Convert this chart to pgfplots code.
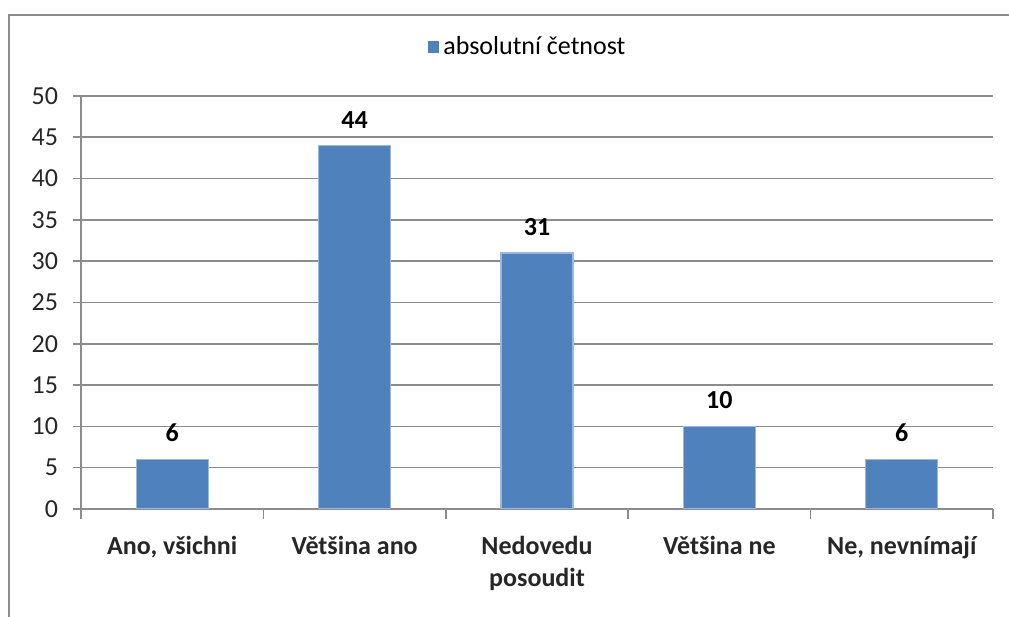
\documentclass[border=0pt]{standalone}
\usepackage{fontspec}
\setmainfont{Carlito}
\usepackage{pgfplots}
\pgfplotsset{compat=1.18}
\usetikzlibrary{calc}

\definecolor{barblue}{HTML}{4F81BD}
\definecolor{baredge}{HTML}{9BB7DD}
\definecolor{gridgray}{HTML}{8C8C8C}

\begin{document}
\begin{tikzpicture}[font=\fontsize{13}{16}\selectfont]
\begin{axis}[
    at={(0,0)}, anchor=south west,
    scale only axis,
    width=456pt, height=206.5pt,
    ybar, bar width=36pt,
    xmin=-0.5, xmax=4.5,
    ymin=0, ymax=50,
    ytick={0,5,...,50},
    xtick={0,1,2,3,4},
    xticklabels={{Ano, všichni},{Většina ano},{Nedovedu\\posoudit},{Většina ne},{Ne, nevnímají}},
    minor xtick={-0.5,0.5,...,4.5},
    major x tick style={draw=none},
    tick align=outside,
    minor tick length=5pt,
    major tick length=4pt,
    every tick/.style={gridgray, line width=0.8pt},
    axis x line*=bottom, axis y line*=left,
    axis line style={gridgray, line width=0.8pt, -},
    ymajorgrids, grid style={gridgray, line width=0.8pt},
    /pgf/number format/assume math mode=true,
    yticklabel style={font=\fontsize{13}{16}\selectfont, xshift=-4pt, text=black!85},
    xticklabel style={font=\fontsize{13}{16}\selectfont\bfseries, align=center, yshift=-6pt, text=black!85},
    nodes near coords,
    every node near coord/.append style={font=\fontsize{13}{16}\selectfont\bfseries, yshift=5pt},
    legend style={at={(0.491,1.1186)}, anchor=center, draw=none, fill=none,
        font=\fontsize{13}{16}\selectfont, inner sep=0pt,
        /tikz/every even column/.append style={column sep=0pt}},
    legend image code/.code={\fill[barblue] (0pt,-2.5pt) rectangle (5pt,2.5pt);},
    legend cell align=left,
]
\addplot[fill=barblue, draw=baredge, line width=0.6pt] coordinates {
    (0,6) (1,44) (2,31) (3,10) (4,6)
};
\addlegendentry{absolutní četnost}
\coordinate (sw) at (rel axis cs:0,0);
\coordinate (ne) at (rel axis cs:1,1);
\end{axis}
\path[use as bounding box] ($(sw)+(-40.5pt,-54pt)$) rectangle ($(ne)+(8pt,48pt)$);
\draw[gridgray, line width=1pt] ($(sw)+(-36pt,-54pt)$) |- ($(ne)+(8pt,40.5pt)$);
\end{tikzpicture}
\end{document}
